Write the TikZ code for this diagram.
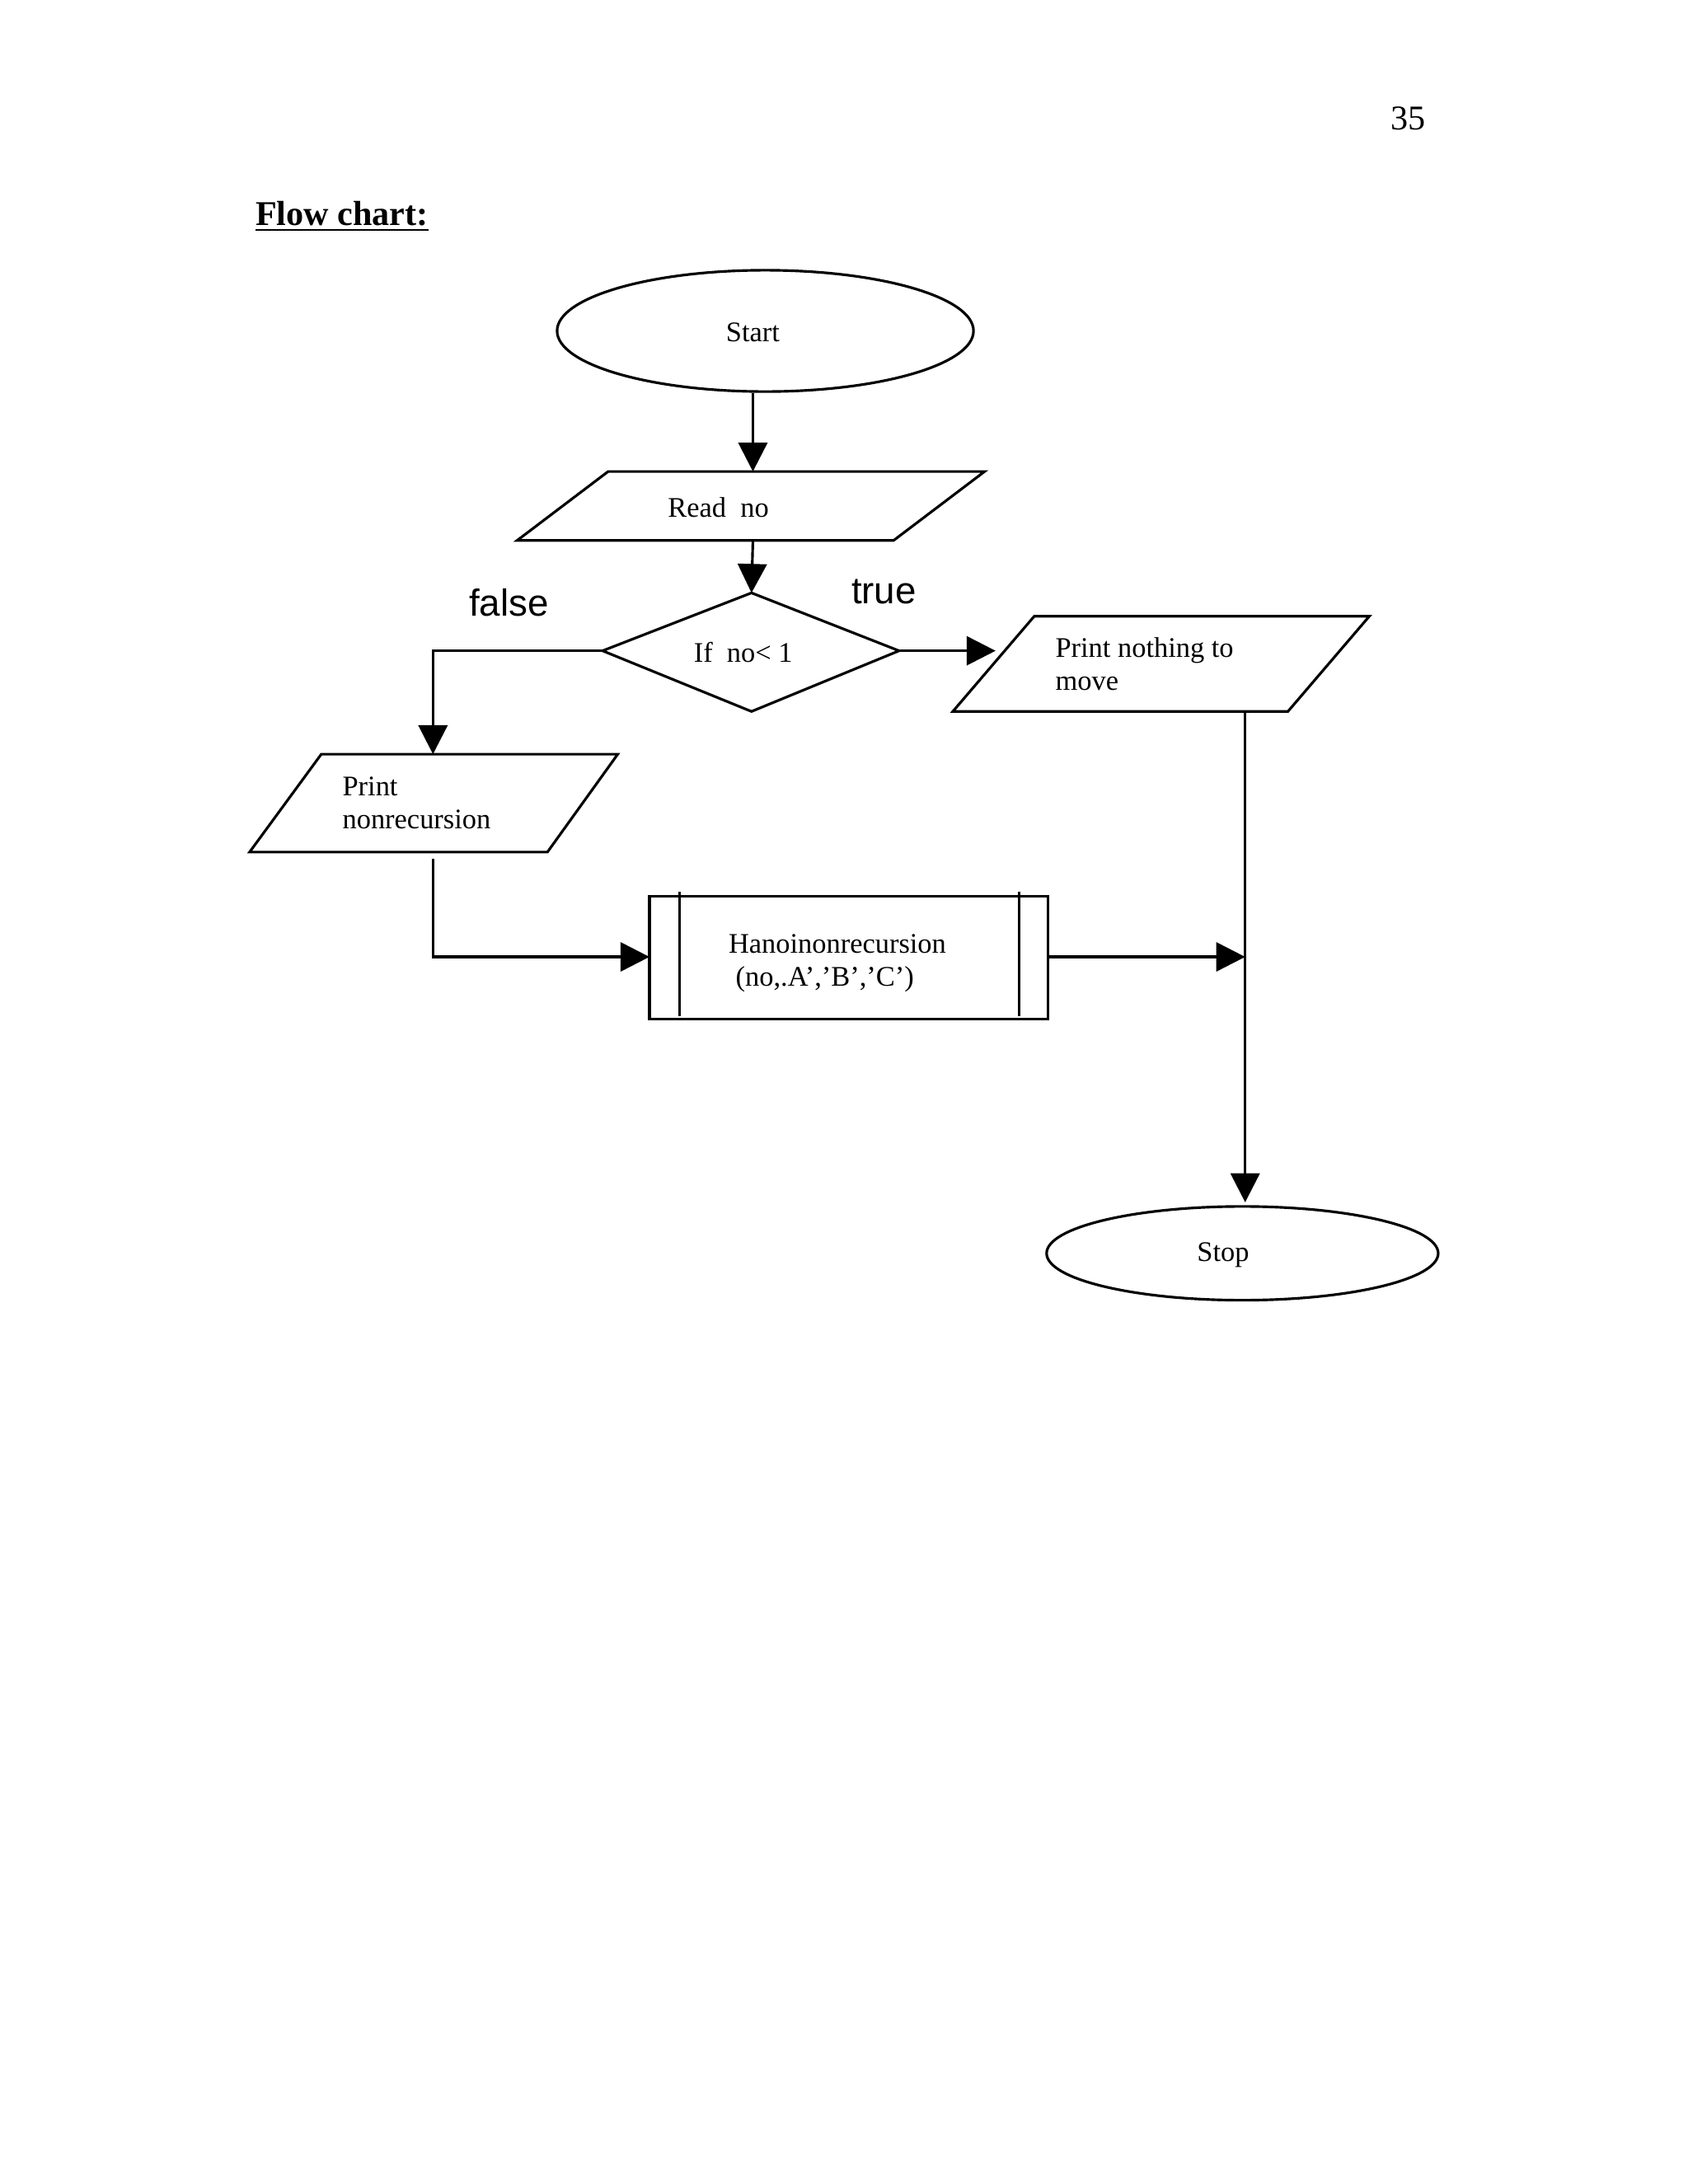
\documentclass[tikz,border=0pt]{standalone}
\usepackage{fontspec}
\setmainfont{Liberation Serif}
\newfontfamily\arialfont{Liberation Sans}
\usetikzlibrary{arrows.meta, positioning}

\begin{document}
\begin{tikzpicture}[
  x=0.016732cm, y=-0.016732cm,
  shape line/.style={line width=0.9pt},
  arrow/.style={
    -{Triangle[length=10pt, width=10pt]},
    line width=0.9pt
  },
  label text/.style={font=\fontsize{9.8}{11.5}\selectfont, inner sep=0pt},
  side text/.style={font=\arialfont\fontsize{13}{15}\selectfont, inner sep=0pt}
]
\useasboundingbox (0,0) rectangle (1224,1584);

% Page header
\node[font=\fontsize{12}{14}\selectfont, inner sep=0pt] (pagenum) at (1021,86) {35};
\node[font=\bfseries\fontsize{12}{14}\selectfont, inner sep=0pt, anchor=west] (title) at (185,157) {\underline{Flow chart:}};

% Shapes
\draw[shape line] (555,240) ellipse (151 and 44);
\node[label text] (start) at (546,241) {Start};
\coordinate (startb) at (546,285);

\draw[shape line] (441,342) -- (714,342) -- (648,392) -- (375,392) -- cycle;
\node[label text] (read) at (521,368) {Read\ \ no};
\coordinate (readt) at (546,342);
\coordinate (readb) at (546,392);

\draw[shape line] (437,472) -- (545,430) -- (652,472) -- (545,516) -- cycle;
\node[label text] (cond) at (539,473) {If\ \ no< 1};
\coordinate (condt) at (545,430);
\coordinate (condl) at (437,472);
\coordinate (condr) at (652,472);

\node[side text] (false) at (369,437) {false};
\node[side text] (true) at (641,429) {true};

\draw[shape line] (233,547) -- (448,547) -- (397,618) -- (181,618) -- cycle;
\node[label text, anchor=north west, align=left] (prnon) at (248,563) {Print\\nonrecursion};
\coordinate (prnont) at (314,547);
\coordinate (prnonb) at (314,623);

\draw[shape line] (750,447) -- (993,447) -- (934,516) -- (691,516) -- cycle;
\node[label text, anchor=north west, align=left] (prnot) at (765,462) {Print nothing to\\move};
\coordinate (prnotl) at (722,472);
\coordinate (prnotb) at (903,516);

\draw[shape line] (471,650) rectangle (760,739);
\draw[shape line] (493,647) -- (493,737);
\draw[shape line] (739,647) -- (739,737);
\node[label text, anchor=north west, align=left] (hanoi) at (528,677) {Hanoinonrecursion\\\ (no,.A’,’B’,’C’)};
\coordinate (hanoil) at (471,694);
\coordinate (hanoir) at (760,694);
\coordinate (join) at (903,694);

\draw[shape line] (901,909) ellipse (142 and 34);
\node[label text] (stop) at (887,910) {Stop};
\coordinate (stopt) at (903,872);

% Connectors
\draw[arrow] (startb) -- (readt);
\draw[arrow] (readb) -- (condt);
\draw[arrow] (condl) -- (314,472) -- (prnont);
\draw[arrow] (condr) -- (prnotl);
\draw[arrow] (prnonb) -- (314,694) -- (hanoil);
\draw[arrow] (hanoir) -- (join);
\draw[arrow] (prnotb) -- (stopt);
\end{tikzpicture}
\end{document}
